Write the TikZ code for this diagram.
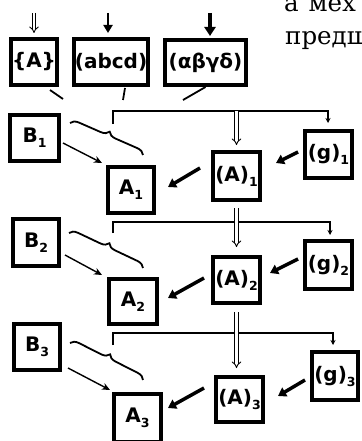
\documentclass[tikz,border=0pt]{standalone}
\usepackage{fontspec}
\newfontfamily\lblfont{DejaVu Sans}
\newfontfamily\txtfont{DejaVu Serif}
\usetikzlibrary{arrows.meta,decorations.pathreplacing,calc}
\newcommand\sbx[1]{\raisebox{-5pt}{\fontsize{12.5pt}{12.5pt}\selectfont #1}}
\begin{document}
\begin{tikzpicture}[x=1pt,y=-1pt,
  box/.style={draw, line width=3.8pt, inner sep=0pt, font=\lblfont\bfseries\fontsize{20pt}{20pt}\selectfont},
  ln/.style={line width=1.8pt},
  brc/.style={line width=1.8pt, decorate, decoration={brace, amplitude=8pt}},
  thk/.style={line width=3.5pt, -{Triangle[length=8pt,width=10pt]}},
  arB/.style={line width=1.4pt, -{Stealth[length=8pt,width=7pt]}},
  dbl/.style={double, double distance=2.4pt, line width=0.9pt, -{Implies[scale=1.6]}},
  tick/.style={line width=1.6pt, -{Stealth[length=5pt,width=5pt]}},
  txt/.style={anchor=base west, inner sep=0pt, font=\txtfont\fontsize{24.5pt}{24.5pt}\selectfont}]
\clip (0,0) rectangle (361,441);
% text fragments
\node[txt] (t1) at (284,11.5) {а\hspace{2pt} мех};
\node[txt] (t2) at (285,45) {предш};
% top boxes
\node[box, minimum width=46.2pt, minimum height=46.2pt] (topA) at (34,62) {\{A\}};
\node[box, minimum width=74.2pt, minimum height=46.2pt] (abcd) at (111,62) {(abcd)};
\node[box, minimum width=81.2pt, minimum height=45.2pt] (abgd) at (205.5,62.5) {(αβγδ)};
% row 1
\node[box, minimum width=49.2pt, minimum height=46.2pt] (B1) at (34.5,138) {B\sbx{1}};
\node[box, minimum width=46.2pt, minimum height=46.2pt] (A1) at (131,190) {A\sbx{1}};
\node[box, minimum width=47.2pt, minimum height=48.2pt] (Am1) at (236.5,176) {(A)\sbx{1}};
\node[box, minimum width=47.2pt, minimum height=47.2pt] (g1) at (328.5,154.5) {(g)\sbx{1}};
% row 2
\node[box, minimum width=46.2pt, minimum height=47.2pt] (B2) at (36,242.5) {B\sbx{2}};
\node[box, minimum width=48.2pt, minimum height=45.2pt] (A2) at (133,301.5) {A\sbx{2}};
\node[box, minimum width=47.2pt, minimum height=46.2pt] (Am2) at (236.5,280) {(A)\sbx{2}};
\node[box, minimum width=47.2pt, minimum height=48.2pt] (g2) at (328.5,265) {(g)\sbx{2}};
% row 3
\node[box, minimum width=46.2pt, minimum height=46.2pt] (B3) at (37,347) {B\sbx{3}};
\node[box, minimum width=47.2pt, minimum height=48.2pt] (A3) at (137.5,418) {A\sbx{3}};
\node[box, minimum width=47.2pt, minimum height=45.2pt] (Am3) at (239.5,399.5) {(A)\sbx{3}};
\node[box, minimum width=46.2pt, minimum height=48.2pt] (g3) at (335,376) {(g)\sbx{3}};
% inputs on top
\coordinate (inA) at (34,13);
\coordinate (inB) at (108,13);
\coordinate (inC) at (210,13);
\draw[dbl, shorten >=4pt] (inA) -- (topA.north);
\draw[line width=2.6pt, -{Triangle[length=8pt,width=9pt]}, shorten >=4pt] (inB) -- (inB |- abcd.north);
\draw[line width=4pt, -{Triangle[length=9pt,width=11pt]}, shorten >=2pt] (inC) -- (inC |- abgd.north);
% lines below top boxes
\coordinate (e1) at (63,99);
\coordinate (e2) at (123,100);
\coordinate (e3) at (183,100);
\draw[ln] ([xshift=16pt,yshift=-3pt]topA.south) -- (e1);
\draw[ln] ([xshift=14pt,yshift=-1pt]abcd.south) -- (e2);
\draw[ln] (abgd.south) -- (e3);
% brackets
\coordinate (L1) at (113,124); \coordinate (J1) at (236.5,111); \coordinate (R1) at (328,123);
\coordinate (L2) at (113,233); \coordinate (J2) at (236.5,222); \coordinate (R2) at (330,235);
\coordinate (L3) at (113,345); \coordinate (J3) at (236.5,333); \coordinate (R3) at (333,345);
\draw[tick] (L1) |- (J1) -| (R1);
\draw[tick] (L2) |- (J2) -| (R2);
\draw[tick] (L3) |- (J3) -| (R3);
% braces
\coordinate (P1) at (70,123); \coordinate (Q1) at (143,155);
\coordinate (P2) at (69,233); \coordinate (Q2) at (143,268);
\coordinate (P3) at (70,343); \coordinate (Q3) at (143,380);
\draw[brc] (P1) -- (Q1);
\draw[brc] (P2) -- (Q2);
\draw[brc] (P3) -- (Q3);
% double arrows down
\draw[dbl, shorten >=5pt] (J1) -- (Am1.north);
\draw[dbl, shorten <=6pt, shorten >=8pt] (Am1.south) -- (Am2.north);
\draw[dbl, shorten <=7pt, shorten >=7pt] (Am2.south) -- (Am2.south |- Am3.north);
% row arrows
\draw[thk] ([xshift=-5pt,yshift=2.5pt]g1.west) -- ([xshift=14pt,yshift=13pt]Am1.east);
\draw[thk] ([xshift=-11pt,yshift=8pt]Am1.west) -- ([xshift=12pt,yshift=3pt]A1.east);
\draw[arB] ([xshift=2pt,yshift=-5pt]B1.east) -- ([xshift=-4pt,yshift=2pt]A1.north west);
\draw[thk] ([xshift=-5pt,yshift=6pt]g2.west) -- ([xshift=8pt,yshift=7pt]Am2.east);
\draw[thk] ([xshift=-7pt,yshift=2pt]Am2.west) -- ([xshift=9pt,yshift=3.5pt]A2.east);
\draw[arB] ([xshift=4pt,yshift=-12.5pt]B2.east) -- ([xshift=-5pt,yshift=2pt]A2.north west);
\draw[thk] ([xshift=-5pt,yshift=-4pt]g3.west) -- ([xshift=13pt,yshift=3.5pt]Am3.east);
\draw[thk] ([xshift=-10pt,yshift=11.5pt]Am3.west) -- ([xshift=5pt,yshift=10pt]A3.east);
\draw[arB] ([xshift=6pt,yshift=-21pt]B3.east) -- ([xshift=-2pt,yshift=2pt]A3.north west);
\end{tikzpicture}
\end{document}
